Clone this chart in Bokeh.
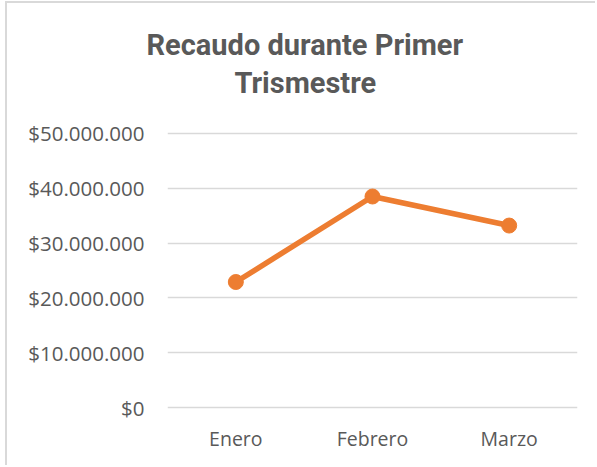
from bokeh.plotting import figure
from bokeh.models import FactorRange, Range1d, FixedTicker, Title, ColumnDataSource
from bokeh.embed import file_html
from bokeh.resources import INLINE

# Data
meses = ["Enero", "Febrero", "Marzo"]
recaudo = [22900000, 38500000, 33200000]
y_ticks = [0, 10000000, 20000000, 30000000, 40000000, 50000000]
y_tick_labels = ["$0", "$10.000.000", "$20.000.000", "$30.000.000", "$40.000.000", "$50.000.000"]
titulo_1 = "Recaudo durante Primer"
titulo_2 = "Trismestre"

TEXT = "#595959"
GRID = "#d9d9d9"
ORANGE = "#ED7D31"

p = figure(
    width=590, height=464,
    x_range=FactorRange(*meses, range_padding=0),
    y_range=Range1d(-909000, 50909000),
    output_backend="svg", toolbar_location=None,
    min_border_left=160, min_border_right=20,
    min_border_top=125, min_border_bottom=55,
)
p.title = None
p.outline_line_color = None
p.background_fill_color = "white"
p.border_fill_color = "white"
p.styles = {"margin-left": "7px", "margin-top": "3px",
            "box-shadow": "-2px -2px 0 #d9d9d9"}

src = ColumnDataSource(dict(x=meses, y=recaudo))
p.line("x", "y", source=src, line_color=ORANGE, line_width=5.5)
p.scatter("x", "y", source=src, size=15, fill_color=ORANGE, line_color=ORANGE)

# Axes
p.yaxis.ticker = FixedTicker(ticks=y_ticks)
p.yaxis.major_label_overrides = {t: l for t, l in zip(y_ticks, y_tick_labels)}
for ax in (p.xaxis[0], p.yaxis[0]):
    ax.axis_line_color = None
    ax.major_tick_line_color = None
    ax.minor_tick_line_color = None
    ax.major_tick_out = 0
    ax.major_tick_in = 0
    ax.major_label_text_color = TEXT
    ax.major_label_text_font = "Open Sans"
p.yaxis.major_label_text_font_size = "20.5px"
p.xaxis.major_label_text_font_size = "19.5px"
p.yaxis.major_label_standoff = 23
p.xaxis.major_label_standoff = 12

p.xgrid.grid_line_color = None
p.ygrid.grid_line_color = GRID
p.ygrid.grid_line_width = 1.5
p.ygrid.ticker = FixedTicker(ticks=y_ticks)

# spacer between the title and the plot area
p.add_layout(Title(text=" ", text_font_size="10px", standoff=15), "above")
# Title: two lines, second line added first (closest to the plot)
for txt, off in ((titulo_2, 67), (titulo_1, -21)):
    p.add_layout(Title(
        text=txt, align="left", offset=off,
        text_font="Roboto", text_font_style="bold",
        text_font_size="29px", text_color=TEXT, standoff=2,
    ), "above")

open("out.html", "w").write(file_html(p, INLINE))
